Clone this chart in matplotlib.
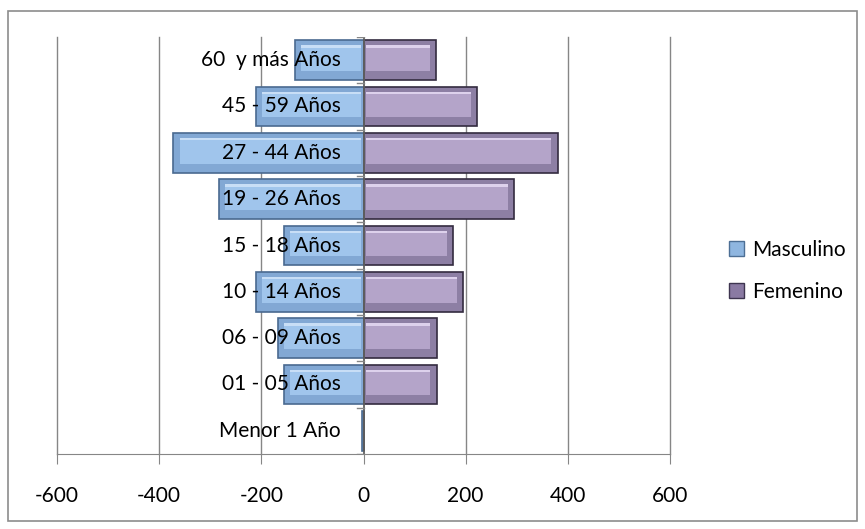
import numpy as np
import matplotlib
matplotlib.use('Agg')
import matplotlib.pyplot as plt
import matplotlib.transforms as mtransforms
from matplotlib.patches import Patch

plt.rcParams['font.family'] = ['Lato', 'DejaVu Sans']

groups = ['Menor 1 Año', '01 - 05 Años', '06 - 09 Años', '10 - 14 Años', '15 - 18 Años',
          '19 - 26 Años', '27 - 44 Años', '45 - 59 Años', '60  y más Años']
masculino = [-2, -155, -167, -211, -155, -283, -372, -211, -135]
femenino = [1, 143, 143, 195, 176, 294, 380, 222, 142]
xticks = [-600, -400, -200, 0, 200, 400, 600]

fig = plt.figure(figsize=(8.65, 5.29), dpi=100)
fig.patches.append(plt.Rectangle((8 / 865, 8 / 529), 849 / 865, 510 / 529, transform=fig.transFigure,
                                 fill=False, edgecolor='#8c8c8c', linewidth=1.2))
ax = fig.add_axes([57 / 865, 75 / 529, 613 / 865, 417 / 529])

y = np.arange(len(groups))
h = 0.86


def bevel_bars(vals, outer, inner, hilite, edge):
    vals = np.array(vals, dtype=float)
    ax.barh(y, vals, height=h, color=outer, edgecolor=edge, linewidth=1.2, zorder=3)
    sgn = np.sign(vals)
    big = np.abs(vals) > 30
    inset = np.where(big, vals - sgn * 16, 0)
    ax.barh(y + 0.03, inset, height=h * 0.62, left=sgn * 4, color=inner, linewidth=0, zorder=4)
    ax.barh(y + 0.03 + h * 0.31, inset, height=h * 0.06, left=sgn * 4, color=hilite,
            linewidth=0, zorder=4)


fs = 15
bevel_bars(masculino, '#82a8d4', '#a0c5ec', '#c8def6', '#4a6a90')
bevel_bars(femenino, '#8d7fa4', '#b4a4c9', '#ddd1ec', '#332b40')

ax.set_xlim(-600, 600)
ax.set_ylim(-0.5, len(groups) - 0.5)
ax.set_xticks(xticks)
ax.set_xticklabels([str(v) for v in xticks], fontsize=fs)
ax.tick_params(axis='x', length=7, color='#868686', pad=16)
ax.set_yticks([])
for v in xticks:
    if v != 0:
        ax.axvline(v, color='#868686', linewidth=1, zorder=1, clip_on=False)
ax.axvline(0, color='#606060', linewidth=1.3, zorder=5)
for b in np.arange(len(groups) + 1) - 0.5:
    ax.plot([-12, 0], [b, b], color='#868686', linewidth=1, zorder=5)

for s in ['top', 'right', 'left']:
    ax.spines[s].set_visible(False)
ax.spines['bottom'].set_color('#868686')

offs = mtransforms.offset_copy(ax.transData, fig=fig, x=-23 / 100 * 72, y=0, units='points')
for yi, g in zip(y, groups):
    ax.text(0, yi, g, transform=offs, ha='right', va='center', fontsize=fs, zorder=6)

handles = [Patch(facecolor='#8fb6e0', edgecolor='#4d6f95', label='Masculino'),
           Patch(facecolor='#8a7aa3', edgecolor='#3e3550', label='Femenino')]
fig.legend(handles=handles, loc='center left', bbox_to_anchor=(710 / 865, 1 - 271 / 529),
           frameon=False, fontsize=fs, handlelength=0.75, handleheight=0.75,
           handletextpad=0.35, labelspacing=1.05)

fig.savefig('out.png', dpi=100)
